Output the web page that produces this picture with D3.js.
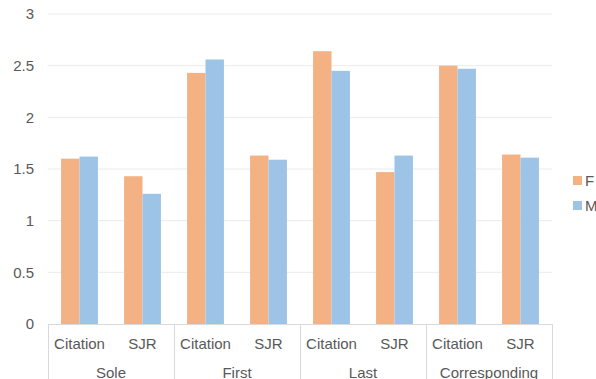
<!DOCTYPE html>
<html>
<head>
<meta charset="utf-8">
<script src="https://cdn.jsdelivr.net/npm/d3@7"></script>
<style>
  html, body { margin: 0; padding: 0; background: #fff; }
  svg text { font-family: "Liberation Sans", Arial, sans-serif; fill: #595959; }
</style>
</head>
<body>
<svg id="chart" width="596" height="379"></svg>
<script>
// Author roles and the two metrics shown for each
const groups = ["Sole", "First", "Last", "Corresponding"];
const metrics = ["Citation", "SJR"];
const seriesNames = ["F", "M"];
const seriesColors = ["#F4B183", "#9DC3E6"];

// Mean values, listed group by group (Citation, SJR)
const valuesF = [1.60, 1.43, 2.43, 1.63, 2.64, 1.47, 2.50, 1.64];
const valuesM = [1.62, 1.26, 2.56, 1.59, 2.45, 1.63, 2.47, 1.61];

const yTicks = [0, 0.5, 1, 1.5, 2, 2.5, 3];

const svg = d3.select("#chart");
const plotLeft = 48, plotRight = 552, plotTop = 14, plotBottom = 324;
const fontSize = 15;

// One band per (group, metric) pair
const cats = [];
groups.forEach(g => metrics.forEach(m => cats.push({ group: g, metric: m, key: g + "|" + m })));

const x = d3.scaleBand().domain(cats.map(c => c.key)).range([plotLeft, plotRight]).paddingInner(0).paddingOuter(0);
const xInner = d3.scaleBand().domain(seriesNames).range([0, x.bandwidth()]).paddingInner(0).paddingOuter(0.71);
const y = d3.scaleLinear().domain([0, 3]).range([plotBottom, plotTop]);

// Horizontal gridlines
svg.append("g").selectAll("line").data(yTicks.filter(t => t > 0)).join("line")
  .attr("x1", plotLeft).attr("x2", plotRight)
  .attr("y1", d => y(d)).attr("y2", d => y(d))
  .attr("stroke", "#EBEBEB").attr("stroke-width", 1);

// Y axis labels
const yAxis = d3.axisLeft(y).tickValues(yTicks).tickSize(0).tickPadding(14).tickFormat(d3.format("~g"));
const yg = svg.append("g").attr("transform", `translate(${plotLeft},0)`).call(yAxis);
yg.select(".domain").remove();
yg.selectAll("text").attr("font-size", fontSize).style("fill", "#595959")
  .style("font-family", "'Liberation Sans', Arial, sans-serif");

// Bars
const series = [valuesF, valuesM];
const barG = svg.append("g");
cats.forEach((c, i) => {
  seriesNames.forEach((s, j) => {
    const v = series[j][i];
    barG.append("rect")
      .attr("x", x(c.key) + xInner(s))
      .attr("width", xInner.bandwidth())
      .attr("y", y(v))
      .attr("height", y(0) - y(v))
      .attr("fill", seriesColors[j]);
  });
});

// Category axis line
svg.append("line").attr("x1", plotLeft).attr("x2", plotRight).attr("y1", plotBottom + 0.5).attr("y2", plotBottom + 0.5)
  .attr("stroke", "#D9D9D9").attr("stroke-width", 1);

// Group dividers extending below the axis
const groupEdges = [plotLeft].concat(groups.map(g => x(g + "|" + metrics[metrics.length - 1]) + x.bandwidth()));
svg.append("g").selectAll("line").data(groupEdges).join("line")
  .attr("x1", d => Math.round(d) + 0.5).attr("x2", d => Math.round(d) + 0.5)
  .attr("y1", plotBottom).attr("y2", 379)
  .attr("stroke", "#D9D9D9").attr("stroke-width", 1);

// Metric labels
svg.append("g").selectAll("text").data(cats).join("text")
  .attr("x", d => x(d.key) + x.bandwidth() / 2)
  .attr("y", 348.5)
  .attr("text-anchor", "middle")
  .attr("font-size", fontSize)
  .text(d => d.metric);

// Group labels
svg.append("g").selectAll("text").data(groups).join("text")
  .attr("x", g => (x(g + "|" + metrics[0]) + x(g + "|" + metrics[1]) + x.bandwidth()) / 2)
  .attr("y", 377.5)
  .attr("text-anchor", "middle")
  .attr("font-size", fontSize)
  .text(g => g);

// Legend
const legend = svg.append("g");
seriesNames.forEach((s, j) => {
  const cy = 180.5 + j * 25;
  legend.append("rect").attr("x", 573).attr("y", cy - 4.5).attr("width", 9).attr("height", 9).attr("fill", seriesColors[j]);
  legend.append("text").attr("x", 585).attr("y", cy + 5.5).attr("font-size", fontSize).text(s);
});
</script>
</body>
</html>
